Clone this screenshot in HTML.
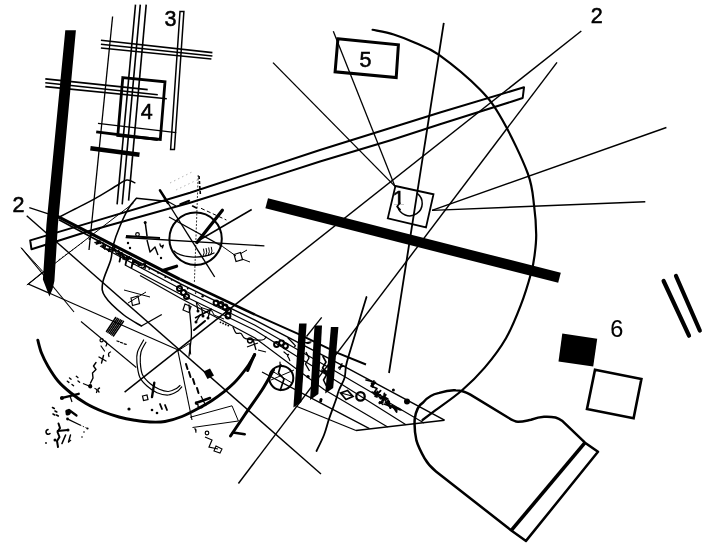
<!DOCTYPE html>
<html lang="en"><head><meta charset="utf-8"><title>Graphic score</title>
<style>
html,body{margin:0;padding:0;background:#fff;}
body{width:714px;height:550px;overflow:hidden;}
svg{display:block;}
svg text{filter:grayscale(1);fill:#000;font-family:"Liberation Sans",sans-serif;}
</style></head><body>
<svg width="714" height="550" viewBox="0 0 714 550" fill="none">
<rect x="0" y="0" width="714" height="550" fill="#fff" stroke="none"/>
<g stroke="#000" fill="none">
<polygon points="65.3,30.2 75.9,30.2 57.9,225.0 54.4,281.0 52.6,289.0 49.4,296.5 46.2,288.0 42.9,279.5 46.4,225.0" fill="#000" stroke="none"/>
<line x1="112.6" y1="16.5" x2="89.0" y2="250.0" stroke-width="1.3" stroke-linecap="butt" />
<line x1="135.5" y1="4.6" x2="117.1" y2="204.4" stroke-width="1.6" stroke-linecap="butt" />
<line x1="140.3" y1="4.6" x2="122.2" y2="204.4" stroke-width="1.6" stroke-linecap="butt" />
<line x1="146.2" y1="4.6" x2="128.6" y2="200.6" stroke-width="1.6" stroke-linecap="butt" />
<polygon points="180.0,11.5 183.9,11.5 174.4,149.6 170.6,149.6" stroke-width="1.5" fill="none" stroke-linejoin="miter" stroke-linecap="butt"/>
<line x1="100.9" y1="40.2" x2="212.4" y2="52.6" stroke-width="1.6" stroke-linecap="butt" />
<line x1="100.9" y1="44.3" x2="212.4" y2="56.0" stroke-width="1.6" stroke-linecap="butt" />
<line x1="100.9" y1="48.0" x2="211.4" y2="59.0" stroke-width="1.6" stroke-linecap="butt" />
<line x1="45.3" y1="78.9" x2="147.7" y2="89.6" stroke-width="1.6" stroke-linecap="butt" />
<line x1="45.3" y1="82.7" x2="157.8" y2="94.7" stroke-width="1.6" stroke-linecap="butt" />
<line x1="45.3" y1="86.6" x2="166.8" y2="98.8" stroke-width="1.6" stroke-linecap="butt" />
<polygon points="122.8,77.6 165.0,81.8 160.3,139.4 117.8,135.4" stroke-width="2.8" fill="none" stroke-linejoin="miter" stroke-linecap="butt"/>
<line x1="98.0" y1="123.4" x2="176.2" y2="132.6" stroke-width="1.4" stroke-linecap="butt" />
<line x1="96.2" y1="131.8" x2="157.8" y2="139.5" stroke-width="2.8" stroke-linecap="butt" />
<polygon points="90.1,150.5 139.2,157.0 139.8,152.6 90.7,146.1" fill="#000" stroke="none"/>
<polygon points="337.9,38.8 398.4,44.8 396.2,77.5 335.1,71.8" stroke-width="3.0" fill="none" stroke-linejoin="miter" stroke-linecap="butt"/>
<polygon points="30.2,240.4 90.0,222.6 190.0,192.8 320.0,150.0 440.0,112.5 524.0,87.3 522.7,98.0 512.0,101.5 440.0,124.3 391.6,140.0 320.0,161.5 270.0,177.6 190.0,202.8 90.0,230.8 31.5,249.3" stroke-width="2.0" fill="none" stroke-linejoin="round" stroke-linecap="butt"/>
<path d="M372.6,29.8 C376.1,30.6 386.6,32.3 393.7,34.5 C400.8,36.7 407.5,39.4 415.0,42.8 C422.5,46.2 427.9,46.9 438.7,54.7 C449.5,62.5 469.4,78.7 480.0,89.6 C490.6,100.5 494.4,106.0 502.4,120.0 C510.4,134.0 522.5,159.1 527.8,173.5 C533.1,187.9 532.8,196.4 534.2,206.6 C535.6,216.8 536.1,226.5 536.2,234.6 C536.3,242.7 535.4,248.7 534.6,255.0 C533.8,261.4 533.5,264.3 531.2,272.7 C528.9,281.1 524.9,294.5 520.7,305.4 C516.5,316.3 512.0,327.8 506.0,338.2 C500.0,348.6 492.1,358.9 484.7,367.6 C477.3,376.3 470.0,383.4 461.8,390.5 C453.6,397.6 442.2,405.3 435.6,410.2 C429.1,415.1 424.7,418.4 422.5,420.0" stroke-width="2.2" fill="none" stroke-linecap="round" stroke-linejoin="round"/>
<line x1="581.3" y1="31.0" x2="124.6" y2="392.1" stroke-width="1.45" stroke-linecap="butt" />
<line x1="557.0" y1="62.4" x2="238.4" y2="483.5" stroke-width="1.45" stroke-linecap="butt" />
<line x1="273.0" y1="62.6" x2="395.0" y2="186.4" stroke-width="1.35" stroke-linecap="butt" />
<line x1="333.3" y1="31.3" x2="395.0" y2="186.4" stroke-width="1.3" stroke-linecap="butt" />
<line x1="443.8" y1="22.9" x2="389.0" y2="373.0" stroke-width="1.8" stroke-linecap="butt" />
<line x1="432.0" y1="210.4" x2="666.4" y2="127.5" stroke-width="1.45" stroke-linecap="butt" />
<line x1="432.0" y1="210.4" x2="645.3" y2="201.8" stroke-width="1.45" stroke-linecap="butt" />
<line x1="26.7" y1="215.8" x2="321.0" y2="474.0" stroke-width="1.4" stroke-linecap="butt" />
<polygon points="395.4,186.0 433.5,194.3 426.0,227.4 387.8,218.3" stroke-width="1.8" fill="none" stroke-linejoin="miter" stroke-linecap="butt"/>
<path d="M417.2,193.3 A12.5,12.5 0 1 1 397.6,206.4" stroke-width="1.5" fill="none" stroke-linecap="round" stroke-linejoin="round"/>
<path d="M399.8,203.2 L397.0,206.6 L400.2,209.6" stroke-width="1.5" fill="none" stroke-linecap="round" stroke-linejoin="round"/>
<polygon points="265.4,208.3 558.2,282.8 560.8,272.8 268.0,198.3" fill="#000" stroke="none"/>
<polygon points="299.1,323.6 306.6,323.6 301.4,402.0 293.4,407.5" fill="#000" stroke="none"/>
<polygon points="314.5,325.5 322.0,325.5 318.4,394.0 310.0,400.0" fill="#000" stroke="none"/>
<polygon points="330.9,327.0 338.4,327.0 333.2,388.0 325.2,393.5" fill="#000" stroke="none"/>
<polygon points="562.3,333.6 597.2,338.8 593.2,366.6 558.5,361.4" fill="#000" stroke="none"/>
<polygon points="595.0,369.7 641.4,379.0 633.6,418.2 587.0,409.0" stroke-width="2.6" fill="none" stroke-linejoin="miter" stroke-linecap="butt"/>
<line x1="663.6" y1="281.0" x2="689.0" y2="335.7" stroke-width="4.2" stroke-linecap="round" />
<line x1="676.0" y1="276.0" x2="699.8" y2="330.5" stroke-width="4.2" stroke-linecap="round" />
<path d="M414.7,419.1 C416,410 419,405 422.9,402.7 C428,396 434,394 439.3,392.9 C445,391 451,390 455.7,390.3 C461,390.5 466,392 470.4,394.6 L508,417.5 C512,420 515,421.5 517.9,421.7 C523,421.8 527,420.5 531,419.8 C536,418 540,417 544,416.8 C548,416.6 552,416.8 555.5,417.5 C558,418.3 560,419.3 562,420.7 L585,442.7 L598,451.8 L526,540.9 L511.3,530.4 L436,471.5 C431,467.5 427.5,463.5 424.6,458.4 C421,452 418,446 416.4,440.4 C414.8,433 414.2,426 414.7,419.1 Z" stroke-width="2.5" fill="none" stroke-linecap="round" stroke-linejoin="round"/>
<line x1="585.0" y1="442.7" x2="511.3" y2="530.4" stroke-width="3.6" stroke-linecap="butt" />
<path d="M37.8,340.2 C38.4,342.3 39.8,348.7 41.5,353.0 C43.2,357.3 45.2,361.5 48.0,366.2 C50.8,370.9 54.2,376.5 58.0,381.0 C61.8,385.5 66.2,389.2 70.9,393.0 C75.6,396.8 80.5,400.3 86.0,403.5 C91.5,406.7 98.5,409.8 104.0,412.0 C109.5,414.2 113.9,415.6 119.0,417.0 C124.1,418.4 129.4,419.4 134.6,420.2 C139.8,421.0 144.9,421.8 150.0,422.0 C155.1,422.2 159.7,422.4 165.0,421.5 C170.3,420.6 176.4,418.7 182.0,416.5 C187.6,414.3 193.7,410.9 198.7,408.2 C203.7,405.5 207.8,403.3 212.0,400.5 C216.2,397.7 220.5,394.5 224.2,391.6 C227.9,388.7 231.0,386.0 234.0,383.0 C237.0,380.0 239.5,376.9 242.0,373.8 C244.5,370.7 246.9,367.7 249.0,364.5 C251.1,361.3 253.8,356.3 254.7,354.7" stroke-width="2.9" fill="none" stroke-linecap="round" stroke-linejoin="round"/>
<circle cx="195.6" cy="238.7" r="26.2" stroke-width="2.0" fill="none"/>
<line x1="125.6" y1="237.5" x2="264.4" y2="245.9" stroke-width="1.3" stroke-linecap="butt" />
<line x1="197.0" y1="242.6" x2="222.4" y2="210.2" stroke-width="3.2" stroke-linecap="round" />
<line x1="199.5" y1="240.0" x2="251.7" y2="209.5" stroke-width="1.5" stroke-linecap="butt" />
<line x1="160.0" y1="190.4" x2="168.0" y2="203.0" stroke-width="2.6" stroke-linecap="round" />
<line x1="168.0" y1="203.0" x2="214.7" y2="277.0" stroke-width="1.4" stroke-linecap="butt" />
<line x1="198.2" y1="175.0" x2="194.4" y2="282.0" stroke-width="0.8" stroke-linecap="butt" stroke-dasharray="2 1.5"/>
<line x1="169.0" y1="217.0" x2="222.4" y2="246.4" stroke-width="1.2" stroke-linecap="butt" />
<path d="M174,251 C180,257 200,260 214,253" stroke-width="1.3" fill="none" stroke-linecap="round" stroke-linejoin="round"/>
<line x1="162.6" y1="270.6" x2="176.6" y2="266.2" stroke-width="3.2" stroke-linecap="round" />
<line x1="201.0" y1="208.3" x2="226.4" y2="220.0" stroke-width="1.0" stroke-linecap="butt" stroke-dasharray="4 2.5"/>
<line x1="29.3" y1="207.7" x2="57.5" y2="216.8" stroke-width="1.3" stroke-linecap="butt" />
<polyline points="57.5,216.3 120.0,248.6 180.0,279.3" stroke-width="3.2" fill="none" stroke-linejoin="miter" stroke-linecap="butt"/>
<polyline points="180.0,279.3 255.0,314.6" stroke-width="2.6" fill="none" stroke-linejoin="miter" stroke-linecap="butt"/>
<polyline points="255.0,314.6 298.7,334.2 338.0,353.2 366.0,364.5" stroke-width="2.0" fill="none" stroke-linejoin="miter" stroke-linecap="butt"/>
<polyline points="59.0,219.8 120.0,252.5 180.0,283.6" stroke-width="1.7" fill="none" stroke-linejoin="miter" stroke-linecap="butt"/>
<polyline points="180.0,283.6 255.0,320.2 338.0,363.2 444.5,420.2" stroke-width="1.5" fill="none" stroke-linejoin="miter" stroke-linecap="butt"/>
<polyline points="100.0,246.0 180.0,288.5 255.0,325.2 338.0,372.8 424.0,423.0" stroke-width="1.2" fill="none" stroke-linejoin="miter" stroke-linecap="butt"/>
<polyline points="125.0,265.0 180.0,294.0 255.0,330.3 338.0,382.0 406.0,424.8" stroke-width="1.2" fill="none" stroke-linejoin="miter" stroke-linecap="butt"/>
<polyline points="140.0,275.6 180.0,298.0 255.0,338.0 324.0,389.5 387.7,427.0" stroke-width="1.2" fill="none" stroke-linejoin="miter" stroke-linecap="butt"/>
<polyline points="262.0,372.0 308.0,396.4 369.5,428.6" stroke-width="1.2" fill="none" stroke-linejoin="miter" stroke-linecap="butt"/>
<polyline points="294.5,405.5 356.0,430.5" stroke-width="1.2" fill="none" stroke-linejoin="miter" stroke-linecap="butt"/>
<line x1="356.0" y1="430.5" x2="444.5" y2="420.2" stroke-width="1.6" stroke-linecap="butt" />
<path d="M366.5,297.0 C365.1,301.7 360.8,315.7 358.0,325.0 C355.2,334.3 351.5,346.2 349.5,353.0 C347.5,359.8 346.8,361.8 346.0,366.0 C345.2,370.2 345.7,374.0 344.5,378.0 C343.3,382.0 340.5,386.2 339.0,390.0 C337.5,393.8 337.2,396.2 335.5,401.0 C333.8,405.8 330.9,413.3 329.0,419.0 C327.1,424.7 326.1,429.7 324.0,435.0 C321.9,440.3 317.8,448.3 316.5,451.0" stroke-width="1.8" fill="none" stroke-linecap="round" stroke-linejoin="round"/>
<line x1="321.7" y1="317.4" x2="306.5" y2="336.5" stroke-width="1.3" stroke-linecap="butt" />
<circle cx="281.3" cy="378.0" r="12.0" stroke-width="2.0" fill="none"/>
<circle cx="360.5" cy="396.4" r="4.2" stroke-width="2.3" fill="none"/>
<polygon points="340.5,393.0 347.5,390.5 353.0,396.5 346.0,399.5" stroke-width="1.8" fill="none" stroke-linejoin="miter" stroke-linecap="butt"/>
<line x1="341.0" y1="393.0" x2="352.0" y2="396.0" stroke-width="1.2" stroke-linecap="butt" />
<circle cx="407.0" cy="401.6" r="3.0" fill="#000" stroke="none"/>
<circle cx="393.4" cy="390.0" r="1.5" fill="#000" stroke="none"/>
<circle cx="320.7" cy="401.0" r="1.5" fill="#000" stroke="none"/>
<circle cx="307.7" cy="376.6" r="1.4" fill="#000" stroke="none"/>
<path d="M273.5,370.0 C271.6,373.3 266.8,382.6 262.0,390.0 C257.2,397.4 250.2,406.8 245.0,414.5 C239.8,422.2 232.9,432.4 230.5,436.0" stroke-width="3.0" fill="none" stroke-linecap="round" stroke-linejoin="round"/>
<line x1="233.0" y1="432.5" x2="244.7" y2="434.3" stroke-width="2.6" stroke-linecap="round" />
<polyline points="190.0,417.3 232.0,405.8 238.4,421.0 192.5,427.5" stroke-width="1.0" fill="none" stroke-linejoin="miter" stroke-linecap="butt"/>
<polyline points="43.7,271.4 28.4,284.0 48.0,292.6" stroke-width="1.2" fill="none" stroke-linejoin="miter" stroke-linecap="butt"/>
<path d="M57.5,218.0 C60.4,216.5 68.8,212.2 75.0,209.0 C81.2,205.8 87.9,202.6 95.0,198.6 C102.1,194.6 112.4,188.1 117.7,185.0 C123.0,181.9 123.9,180.4 126.8,180.0 C129.7,179.6 133.5,182.2 134.8,182.7" stroke-width="1.5" fill="none" stroke-linecap="round" stroke-linejoin="round"/>
<line x1="136.5" y1="198.3" x2="168.0" y2="201.5" stroke-width="1.4" stroke-linecap="butt" />
<line x1="168.0" y1="201.5" x2="176.0" y2="206.0" stroke-width="1.2" stroke-linecap="butt" />
<path d="M136.5,198.3 C135.2,199.9 131.8,203.1 129.0,207.7 C126.2,212.3 122.7,219.6 120.0,226.0 C117.3,232.4 114.5,240.3 113.0,246.0 C111.5,251.7 112.4,253.9 110.7,260.0 C109.0,266.1 103.7,276.6 102.7,282.7 C101.8,288.8 101.6,291.1 105.0,296.4 C108.4,301.7 117.1,309.6 123.2,314.5 C129.3,319.4 138.4,324.1 141.4,326.0" stroke-width="1.6" fill="none" stroke-linecap="round" stroke-linejoin="round"/>
<line x1="141.4" y1="326.0" x2="161.8" y2="314.5" stroke-width="1.4" stroke-linecap="butt" />
<path d="M189.0,305.0 C189.2,307.5 190.1,315.0 190.5,320.0 C190.9,325.0 191.7,329.0 191.4,335.0 C191.2,341.0 189.4,352.5 189.0,356.0" stroke-width="1.3" fill="none" stroke-linecap="round" stroke-linejoin="round"/>
<line x1="26.8" y1="285.0" x2="133.6" y2="203.0" stroke-width="1.0" stroke-linecap="butt" />
<line x1="58.6" y1="260.0" x2="83.6" y2="241.8" stroke-width="0.8" stroke-linecap="butt" stroke-dasharray="2 2"/>
<line x1="21.0" y1="247.5" x2="42.7" y2="271.4" stroke-width="1.0" stroke-linecap="butt" />
<line x1="21.3" y1="248.0" x2="74.0" y2="312.0" stroke-width="1.1" stroke-linecap="butt" />
<line x1="48.0" y1="292.6" x2="177.7" y2="349.8" stroke-width="1.1" stroke-linecap="butt" />
<line x1="81.0" y1="321.5" x2="136.3" y2="367.5" stroke-width="1.1" stroke-linecap="butt" />
<polyline points="177.6,351.0 189.6,343.3 190.7,354.5" stroke-width="1.0" fill="none" stroke-linejoin="miter" stroke-linecap="butt"/>
<line x1="106.5" y1="331.5" x2="115.7" y2="317.5" stroke-width="1.5" stroke-linecap="round" />
<line x1="107.9" y1="332.4" x2="117.3" y2="318.3" stroke-width="1.5" stroke-linecap="round" />
<line x1="109.3" y1="333.3" x2="118.8" y2="319.0" stroke-width="1.5" stroke-linecap="round" />
<line x1="110.7" y1="334.2" x2="120.4" y2="319.8" stroke-width="1.5" stroke-linecap="round" />
<line x1="112.0" y1="335.1" x2="121.9" y2="320.5" stroke-width="1.5" stroke-linecap="round" />
<line x1="113.4" y1="336.0" x2="123.5" y2="321.3" stroke-width="1.5" stroke-linecap="round" />
<line x1="117.0" y1="341.0" x2="119.0" y2="341.6" stroke-width="1.3" stroke-linecap="round" />
<line x1="120.6" y1="342.4" x2="122.6" y2="343.0" stroke-width="1.3" stroke-linecap="round" />
<line x1="124.2" y1="343.8" x2="126.2" y2="344.4" stroke-width="1.3" stroke-linecap="round" />
<path d="M143.6,340.0 C142.6,342.0 138.6,348.3 137.5,352.0 C136.4,355.7 136.5,358.2 136.9,362.4 C137.3,366.6 138.0,373.1 139.7,377.0 C141.4,380.9 144.1,383.4 147.0,386.0 C149.9,388.6 153.4,391.2 157.0,392.7 C160.6,394.2 164.9,395.2 168.3,395.0 C171.7,394.8 175.0,392.8 177.2,391.5 C179.4,390.2 180.9,387.8 181.7,387.0" stroke-width="1.2" fill="none" stroke-linecap="round" stroke-linejoin="round"/>
<path d="M145.9,342.2 C145.1,343.8 141.9,348.6 141.0,352.0 C140.1,355.4 140.1,358.6 140.3,362.4 C140.6,366.2 140.8,371.1 142.5,374.7 C144.2,378.2 147.5,381.3 150.3,383.7 C153.1,386.1 156.3,388.0 159.3,389.3 C162.3,390.6 165.5,391.6 168.3,391.5 C171.1,391.4 174.2,389.7 176.1,388.7 C178.0,387.7 179.3,386.0 180.0,385.5" stroke-width="1.2" fill="none" stroke-linecap="round" stroke-linejoin="round"/>
<line x1="154.3" y1="382.6" x2="152.0" y2="397.1" stroke-width="2.4" stroke-linecap="round" />
<polygon points="131.0,298.0 138.0,296.0 139.5,303.5 132.5,305.5" stroke-width="1.2" fill="none" stroke-linejoin="miter" stroke-linecap="butt"/>
<line x1="124.0" y1="290.0" x2="150.0" y2="297.0" stroke-width="1.0" stroke-linecap="butt" />
<line x1="128.0" y1="303.0" x2="146.0" y2="292.0" stroke-width="1.0" stroke-linecap="butt" />
<polygon points="234.0,254.5 240.5,252.5 242.5,259.5 236.0,261.5" stroke-width="1.2" fill="none" stroke-linejoin="miter" stroke-linecap="butt"/>
<line x1="222.4" y1="246.4" x2="236.0" y2="256.0" stroke-width="1.0" stroke-linecap="butt" />
<line x1="240.0" y1="254.0" x2="247.0" y2="250.0" stroke-width="1.0" stroke-linecap="butt" />
<line x1="242.0" y1="259.0" x2="250.0" y2="262.0" stroke-width="1.0" stroke-linecap="butt" />
<path d="M203.0,256.5 q2.2,-3.5 0.6,-7.5" stroke-width="1.0" fill="none" stroke-linecap="round" stroke-linejoin="round"/>
<path d="M205.6,255.9 q2.2,-3.5 0.6,-7.5" stroke-width="1.0" fill="none" stroke-linecap="round" stroke-linejoin="round"/>
<path d="M208.2,255.3 q2.2,-3.5 0.6,-7.5" stroke-width="1.0" fill="none" stroke-linecap="round" stroke-linejoin="round"/>
<path d="M210.8,254.7 q2.2,-3.5 0.6,-7.5" stroke-width="1.0" fill="none" stroke-linecap="round" stroke-linejoin="round"/>
<circle cx="137.5" cy="234.5" r="1.8" stroke-width="1.2" fill="none"/>
<circle cx="145.2" cy="222.5" r="1.5" fill="#000" stroke="none"/>
<line x1="145.2" y1="222.5" x2="147.1" y2="236.4" stroke-width="1.5" stroke-linecap="butt" />
<line x1="126.0" y1="236.0" x2="160.0" y2="238.0" stroke-width="2.0" stroke-linecap="butt" />
<polyline points="147.0,240.0 150.0,252.0 155.0,247.0 158.0,255.0" stroke-width="1.4" fill="none" stroke-linejoin="round" stroke-linecap="butt"/>
<polyline points="160.0,244.0 160.2,245.1 161.1,246.6 163.3,245.2 162.3,247.9 162.6,247.4" stroke-width="1.3" fill="none" stroke-linejoin="round" stroke-linecap="round"/>
<circle cx="128.0" cy="243.0" r="1.2" fill="#000" stroke="none"/>
<circle cx="130.0" cy="248.0" r="1.2" fill="#000" stroke="none"/>
<circle cx="161.0" cy="258.0" r="1.2" fill="#000" stroke="none"/>
<circle cx="146.0" cy="262.0" r="1.1" fill="#000" stroke="none"/>
<line x1="170.0" y1="183.0" x2="192.0" y2="172.0" stroke-width="0.6" stroke-linecap="butt" stroke-dasharray="1.5 3" stroke-opacity="0.5"/>
<line x1="176.0" y1="190.0" x2="197.0" y2="180.0" stroke-width="0.6" stroke-linecap="butt" stroke-dasharray="1.5 3" stroke-opacity="0.5"/>
<line x1="180.3" y1="204.2" x2="189.2" y2="200.8" stroke-width="2.0" stroke-linecap="round" />
<line x1="192.6" y1="206.0" x2="196.5" y2="208.0" stroke-width="1.6" stroke-linecap="round" />
<line x1="199.0" y1="176.0" x2="200.5" y2="196.0" stroke-width="1.6" stroke-linecap="butt" stroke-dasharray="3 2"/>
<circle cx="179.5" cy="288.5" r="2.5" stroke-width="2.0" fill="none"/>
<circle cx="183.5" cy="292.5" r="2.5" stroke-width="2.0" fill="none"/>
<circle cx="186.5" cy="296.5" r="2.5" stroke-width="2.0" fill="none"/>
<circle cx="216.0" cy="303.0" r="2.4" stroke-width="2.0" fill="none"/>
<circle cx="221.0" cy="304.5" r="2.4" stroke-width="2.0" fill="none"/>
<circle cx="225.0" cy="307.0" r="2.4" stroke-width="2.0" fill="none"/>
<circle cx="228.5" cy="311.0" r="2.4" stroke-width="2.0" fill="none"/>
<circle cx="228.0" cy="316.0" r="2.4" stroke-width="2.0" fill="none"/>
<polygon points="185.0,304.0 191.0,306.5 189.0,312.5 183.0,310.0" stroke-width="1.2" fill="none" stroke-linejoin="miter" stroke-linecap="butt"/>
<circle cx="198.0" cy="311.0" r="1.5" fill="#000" stroke="none"/>
<line x1="198.0" y1="311.0" x2="196.4" y2="302.1" stroke-width="1.3" stroke-linecap="butt" />
<circle cx="203.0" cy="316.0" r="1.5" fill="#000" stroke="none"/>
<line x1="203.0" y1="316.0" x2="201.4" y2="307.1" stroke-width="1.3" stroke-linecap="butt" />
<circle cx="208.0" cy="318.0" r="1.5" fill="#000" stroke="none"/>
<line x1="208.0" y1="318.0" x2="210.3" y2="309.3" stroke-width="1.3" stroke-linecap="butt" />
<circle cx="196.0" cy="322.0" r="1.5" fill="#000" stroke="none"/>
<line x1="196.0" y1="322.0" x2="200.5" y2="314.2" stroke-width="1.3" stroke-linecap="butt" />
<line x1="195.0" y1="318.0" x2="212.0" y2="309.0" stroke-width="1.6" stroke-linecap="butt" />
<line x1="194.0" y1="330.0" x2="205.0" y2="321.0" stroke-width="2.0" stroke-linecap="round" />
<circle cx="220.5" cy="322.3" r="0.9" fill="#000" stroke="none"/>
<circle cx="223.1" cy="323.4" r="0.9" fill="#000" stroke="none"/>
<circle cx="225.7" cy="324.5" r="0.9" fill="#000" stroke="none"/>
<circle cx="228.3" cy="325.6" r="0.9" fill="#000" stroke="none"/>
<path d="M233.0,327.0 C233.5,328.0 234.7,331.9 236.0,333.0 C237.3,334.1 239.4,332.6 241.0,333.5 C242.6,334.4 242.0,337.5 245.5,338.6 C249.0,339.7 258.6,340.3 262.0,340.0 C265.4,339.7 265.3,337.5 266.0,337.0" stroke-width="1.2" fill="none" stroke-linecap="round" stroke-linejoin="round"/>
<circle cx="250.0" cy="340.5" r="2.4" stroke-width="1.5" fill="none"/>
<line x1="253.0" y1="339.0" x2="256.0" y2="350.0" stroke-width="1.3" stroke-linecap="butt" />
<line x1="247.0" y1="347.0" x2="258.0" y2="343.0" stroke-width="1.2" stroke-linecap="butt" />
<line x1="258.0" y1="350.0" x2="266.0" y2="352.0" stroke-width="1.1" stroke-linecap="butt" />
<circle cx="276.5" cy="344.5" r="2.4" stroke-width="2.0" fill="none"/>
<circle cx="281.5" cy="343.0" r="2.4" stroke-width="2.0" fill="none"/>
<circle cx="285.5" cy="346.0" r="2.4" stroke-width="2.0" fill="none"/>
<polyline points="288.0,338.0 290.0,340.0 292.9,343.0 295.5,345.8 294.7,346.5" stroke-width="1.2" fill="none" stroke-linejoin="round" stroke-linecap="round"/>
<polyline points="284.0,352.0 287.1,354.6 288.6,354.3 287.5,356.0 288.9,358.3 289.8,360.6" stroke-width="1.2" fill="none" stroke-linejoin="round" stroke-linecap="round"/>
<polyline points="280.0,362.0 280.1,365.1 279.8,366.9 279.2,366.5 283.1,366.0" stroke-width="1.2" fill="none" stroke-linejoin="round" stroke-linecap="round"/>
<line x1="254.5" y1="354.5" x2="247.7" y2="370.5" stroke-width="3.0" stroke-linecap="round" />
<circle cx="89.6" cy="239.0" r="1.1" fill="#000" stroke="none"/>
<circle cx="96.6" cy="243.9" r="0.9" fill="#000" stroke="none"/>
<circle cx="104.1" cy="247.5" r="0.7" fill="#000" stroke="none"/>
<circle cx="112.4" cy="250.0" r="0.8" fill="#000" stroke="none"/>
<circle cx="119.8" cy="256.0" r="0.8" fill="#000" stroke="none"/>
<circle cx="126.9" cy="259.1" r="1.3" fill="#000" stroke="none"/>
<circle cx="135.2" cy="262.2" r="1.3" fill="#000" stroke="none"/>
<circle cx="141.6" cy="267.3" r="0.9" fill="#000" stroke="none"/>
<circle cx="149.3" cy="268.9" r="0.9" fill="#000" stroke="none"/>
<circle cx="158.1" cy="272.8" r="1.0" fill="#000" stroke="none"/>
<circle cx="165.3" cy="277.1" r="1.0" fill="#000" stroke="none"/>
<circle cx="171.6" cy="279.9" r="0.8" fill="#000" stroke="none"/>
<circle cx="180.4" cy="284.8" r="0.9" fill="#000" stroke="none"/>
<circle cx="187.7" cy="288.6" r="0.9" fill="#000" stroke="none"/>
<circle cx="195.6" cy="293.1" r="0.8" fill="#000" stroke="none"/>
<circle cx="202.6" cy="296.3" r="1.2" fill="#000" stroke="none"/>
<polyline points="196.0,302.0 201.0,307.5 212.0,311.0 214.0,315.0 224.0,319.0" stroke-width="1.0" fill="none" stroke-linejoin="miter" stroke-linecap="butt"/>
<polyline points="281.0,364.0 278.5,373.0 284.0,379.0 280.0,391.0" stroke-width="1.7" fill="none" stroke-linejoin="round" stroke-linecap="butt"/>
<line x1="272.0" y1="371.0" x2="292.0" y2="383.0" stroke-width="1.0" stroke-linecap="butt" />
<line x1="271.0" y1="380.0" x2="294.0" y2="370.0" stroke-width="1.0" stroke-linecap="butt" />
<polyline points="366.0,380.0 374.0,382.0 371.0,386.0 377.0,388.5 374.5,392.0" stroke-width="1.7" fill="none" stroke-linejoin="round" stroke-linecap="round"/>
<line x1="371.4" y1="382.9" x2="373.0" y2="387.1" stroke-width="1.5" stroke-linecap="round" />
<line x1="373.9" y1="380.8" x2="372.4" y2="386.7" stroke-width="1.5" stroke-linecap="round" />
<line x1="375.6" y1="382.3" x2="371.8" y2="386.5" stroke-width="1.5" stroke-linecap="round" />
<circle cx="373.0" cy="384.0" r="1.1" fill="#000" stroke="none"/>
<line x1="377.6" y1="391.5" x2="375.4" y2="396.2" stroke-width="1.8" stroke-linecap="round" />
<line x1="380.6" y1="390.6" x2="375.3" y2="396.4" stroke-width="1.8" stroke-linecap="round" />
<line x1="375.7" y1="392.0" x2="377.0" y2="397.0" stroke-width="1.8" stroke-linecap="round" />
<line x1="374.4" y1="394.4" x2="380.3" y2="394.9" stroke-width="1.8" stroke-linecap="round" />
<circle cx="377.0" cy="394.5" r="1.4" fill="#000" stroke="none"/>
<line x1="379.6" y1="397.5" x2="386.7" y2="398.3" stroke-width="1.8" stroke-linecap="round" />
<line x1="385.8" y1="394.7" x2="381.9" y2="401.2" stroke-width="1.8" stroke-linecap="round" />
<line x1="380.6" y1="398.7" x2="386.8" y2="399.0" stroke-width="1.8" stroke-linecap="round" />
<line x1="384.4" y1="393.5" x2="383.3" y2="400.9" stroke-width="1.8" stroke-linecap="round" />
<circle cx="384.0" cy="398.0" r="1.4" fill="#000" stroke="none"/>
<line x1="388.3" y1="400.5" x2="390.5" y2="408.0" stroke-width="1.9" stroke-linecap="round" />
<line x1="385.5" y1="402.0" x2="389.7" y2="405.6" stroke-width="1.9" stroke-linecap="round" />
<line x1="386.3" y1="403.6" x2="393.1" y2="407.3" stroke-width="1.9" stroke-linecap="round" />
<line x1="387.6" y1="401.2" x2="390.3" y2="407.9" stroke-width="1.9" stroke-linecap="round" />
<circle cx="388.5" cy="405.0" r="1.4" fill="#000" stroke="none"/>
<line x1="392.3" y1="405.6" x2="396.7" y2="410.7" stroke-width="1.8" stroke-linecap="round" />
<line x1="392.6" y1="407.0" x2="397.3" y2="408.1" stroke-width="1.8" stroke-linecap="round" />
<line x1="392.2" y1="405.6" x2="396.6" y2="412.0" stroke-width="1.8" stroke-linecap="round" />
<line x1="392.4" y1="406.2" x2="399.7" y2="409.4" stroke-width="1.8" stroke-linecap="round" />
<circle cx="395.5" cy="408.5" r="1.4" fill="#000" stroke="none"/>
<line x1="383.1" y1="402.2" x2="379.3" y2="403.6" stroke-width="1.4" stroke-linecap="round" />
<line x1="379.6" y1="401.7" x2="382.8" y2="404.5" stroke-width="1.4" stroke-linecap="round" />
<line x1="379.0" y1="402.6" x2="382.1" y2="402.9" stroke-width="1.4" stroke-linecap="round" />
<circle cx="381.0" cy="402.0" r="1.0" fill="#000" stroke="none"/>
<line x1="372.0" y1="392.0" x2="388.0" y2="399.0" stroke-width="1.5" stroke-linecap="round" />
<line x1="384.0" y1="404.0" x2="401.0" y2="410.0" stroke-width="1.5" stroke-linecap="round" />
<circle cx="399.0" cy="409.0" r="1.3" fill="#000" stroke="none"/>
<circle cx="389.0" cy="402.0" r="1.2" fill="#000" stroke="none"/>
<polyline points="306.0,352.0 309.0,358.0 305.5,364.0 309.5,371.0" stroke-width="1.4" fill="none" stroke-linejoin="round" stroke-linecap="butt"/>
<polyline points="322.7,356.0 326.0,362.0 322.5,368.0 327.0,374.0 323.5,380.0 326.4,386.0" stroke-width="1.6" fill="none" stroke-linejoin="round" stroke-linecap="butt"/>
<line x1="321.7" y1="369.9" x2="325.7" y2="373.7" stroke-width="1.4" stroke-linecap="round" />
<line x1="323.4" y1="368.9" x2="327.6" y2="372.6" stroke-width="1.4" stroke-linecap="round" />
<line x1="327.7" y1="371.0" x2="321.5" y2="371.6" stroke-width="1.4" stroke-linecap="round" />
<circle cx="324.5" cy="371.0" r="1.0" fill="#000" stroke="none"/>
<line x1="310.2" y1="342.9" x2="306.9" y2="343.1" stroke-width="1.3" stroke-linecap="round" />
<line x1="311.1" y1="341.8" x2="307.0" y2="342.6" stroke-width="1.3" stroke-linecap="round" />
<line x1="309.3" y1="342.6" x2="305.1" y2="342.7" stroke-width="1.3" stroke-linecap="round" />
<circle cx="308.0" cy="343.0" r="1.0" fill="#000" stroke="none"/>
<line x1="342.0" y1="363.6" x2="339.8" y2="369.4" stroke-width="1.3" stroke-linecap="round" />
<line x1="344.1" y1="366.0" x2="339.0" y2="367.1" stroke-width="1.3" stroke-linecap="round" />
<line x1="341.9" y1="366.4" x2="338.5" y2="368.0" stroke-width="1.3" stroke-linecap="round" />
<circle cx="341.0" cy="366.0" r="1.0" fill="#000" stroke="none"/>
<circle cx="308.2" cy="376.8" r="1.5" fill="#000" stroke="none"/>
<circle cx="321.0" cy="399.5" r="1.5" fill="#000" stroke="none"/>
<line x1="96.9" y1="241.7" x2="100.4" y2="243.4" stroke-width="1.5" stroke-linecap="round" />
<line x1="100.0" y1="240.7" x2="97.4" y2="243.6" stroke-width="1.5" stroke-linecap="round" />
<line x1="95.0" y1="242.6" x2="98.8" y2="243.6" stroke-width="1.5" stroke-linecap="round" />
<circle cx="98.0" cy="242.1" r="1.1" fill="#000" stroke="none"/>
<line x1="105.5" y1="245.4" x2="104.7" y2="248.7" stroke-width="1.5" stroke-linecap="round" />
<line x1="103.1" y1="243.1" x2="103.5" y2="247.6" stroke-width="1.5" stroke-linecap="round" />
<line x1="101.9" y1="245.4" x2="104.7" y2="248.9" stroke-width="1.5" stroke-linecap="round" />
<circle cx="104.0" cy="246.0" r="1.1" fill="#000" stroke="none"/>
<line x1="106.3" y1="249.0" x2="110.2" y2="251.0" stroke-width="1.5" stroke-linecap="round" />
<line x1="109.9" y1="247.8" x2="108.7" y2="251.4" stroke-width="1.5" stroke-linecap="round" />
<line x1="107.2" y1="249.2" x2="111.3" y2="249.8" stroke-width="1.5" stroke-linecap="round" />
<circle cx="109.0" cy="249.5" r="1.1" fill="#000" stroke="none"/>
<line x1="116.5" y1="250.6" x2="112.5" y2="250.9" stroke-width="1.5" stroke-linecap="round" />
<line x1="113.0" y1="248.3" x2="115.4" y2="250.3" stroke-width="1.5" stroke-linecap="round" />
<line x1="114.0" y1="246.9" x2="115.8" y2="251.6" stroke-width="1.5" stroke-linecap="round" />
<circle cx="114.0" cy="250.2" r="1.1" fill="#000" stroke="none"/>
<line x1="122.0" y1="252.7" x2="117.1" y2="253.3" stroke-width="1.5" stroke-linecap="round" />
<line x1="118.6" y1="250.5" x2="120.9" y2="254.5" stroke-width="1.5" stroke-linecap="round" />
<line x1="115.9" y1="252.8" x2="120.3" y2="255.3" stroke-width="1.5" stroke-linecap="round" />
<circle cx="119.0" cy="253.6" r="1.1" fill="#000" stroke="none"/>
<line x1="126.4" y1="257.5" x2="123.0" y2="258.9" stroke-width="1.5" stroke-linecap="round" />
<line x1="122.3" y1="254.3" x2="124.9" y2="258.2" stroke-width="1.5" stroke-linecap="round" />
<line x1="122.1" y1="255.4" x2="124.2" y2="259.5" stroke-width="1.5" stroke-linecap="round" />
<circle cx="124.0" cy="257.1" r="1.1" fill="#000" stroke="none"/>
<line x1="129.4" y1="256.9" x2="126.3" y2="260.9" stroke-width="1.5" stroke-linecap="round" />
<line x1="131.0" y1="257.7" x2="128.5" y2="259.4" stroke-width="1.5" stroke-linecap="round" />
<line x1="126.5" y1="256.3" x2="130.8" y2="259.2" stroke-width="1.5" stroke-linecap="round" />
<circle cx="129.0" cy="257.8" r="1.1" fill="#000" stroke="none"/>
<line x1="133.6" y1="260.1" x2="136.7" y2="263.1" stroke-width="1.5" stroke-linecap="round" />
<line x1="133.0" y1="260.7" x2="133.2" y2="264.3" stroke-width="1.5" stroke-linecap="round" />
<line x1="135.5" y1="260.5" x2="133.0" y2="263.0" stroke-width="1.5" stroke-linecap="round" />
<circle cx="134.0" cy="261.3" r="1.1" fill="#000" stroke="none"/>
<line x1="137.7" y1="263.5" x2="142.1" y2="265.4" stroke-width="1.5" stroke-linecap="round" />
<line x1="136.9" y1="262.7" x2="139.1" y2="265.3" stroke-width="1.5" stroke-linecap="round" />
<line x1="136.3" y1="262.5" x2="140.2" y2="265.4" stroke-width="1.5" stroke-linecap="round" />
<circle cx="139.0" cy="264.7" r="1.1" fill="#000" stroke="none"/>
<line x1="143.8" y1="263.5" x2="146.4" y2="266.5" stroke-width="1.5" stroke-linecap="round" />
<line x1="145.2" y1="263.4" x2="145.1" y2="268.6" stroke-width="1.5" stroke-linecap="round" />
<line x1="146.0" y1="265.5" x2="142.9" y2="268.0" stroke-width="1.5" stroke-linecap="round" />
<circle cx="145.0" cy="265.9" r="1.1" fill="#000" stroke="none"/>
<line x1="121.0" y1="254.6" x2="119.5" y2="261.6" stroke-width="1.8" stroke-linecap="round" />
<line x1="127.0" y1="257.6" x2="125.5" y2="264.6" stroke-width="1.8" stroke-linecap="round" />
<line x1="133.0" y1="260.7" x2="131.5" y2="267.7" stroke-width="1.8" stroke-linecap="round" />
<polygon points="203.5,371.5 210.0,368.5 214.0,375.5 207.5,379.0" fill="#000" stroke="none"/>
<line x1="186.0" y1="364.0" x2="187.5" y2="369.0" stroke-width="2.0" stroke-linecap="round" />
<line x1="189.0" y1="372.0" x2="190.5" y2="377.0" stroke-width="2.0" stroke-linecap="round" />
<line x1="193.0" y1="379.0" x2="194.5" y2="384.0" stroke-width="2.0" stroke-linecap="round" />
<line x1="197.0" y1="388.0" x2="198.5" y2="393.0" stroke-width="2.0" stroke-linecap="round" />
<line x1="196.0" y1="403.0" x2="210.0" y2="398.0" stroke-width="2.6" stroke-linecap="round" />
<line x1="201.0" y1="396.0" x2="206.0" y2="406.0" stroke-width="1.3" stroke-linecap="butt" />
<polyline points="196.0,402.0 195.8,403.8 198.0,404.6 198.1,406.9 201.1,407.9 202.6,407.4 201.7,407.7" stroke-width="1.3" fill="none" stroke-linejoin="round" stroke-linecap="round"/>
<line x1="177.7" y1="349.8" x2="192.0" y2="420.0" stroke-width="1.1" stroke-linecap="butt" />
<polyline points="196.0,430.0 194.9,428.7 196.0,430.9 195.7,429.6 195.9,432.2" stroke-width="1.2" fill="none" stroke-linejoin="round" stroke-linecap="round"/>
<circle cx="207.0" cy="433.0" r="1.8" stroke-width="1.2" fill="none"/>
<polyline points="205.0,437.0 212.0,440.0 209.0,447.0 218.0,449.0" stroke-width="1.2" fill="none" stroke-linejoin="miter" stroke-linecap="butt"/>
<polygon points="216.0,446.0 222.0,449.0 220.0,453.0 214.0,451.0" stroke-width="1.1" fill="none" stroke-linejoin="miter" stroke-linecap="butt"/>
<circle cx="101.6" cy="340.3" r="1.6" stroke-width="1.2" fill="none"/>
<path d="M105,341 q3,2 1,5" stroke-width="1.3" fill="none" stroke-linecap="round" stroke-linejoin="round"/>
<line x1="101.0" y1="346.0" x2="104.5" y2="351.0" stroke-width="1.2" stroke-linecap="round" />
<path d="M110.5,352 q-3,1 -1.5,4.5" stroke-width="1.3" fill="none" stroke-linecap="round" stroke-linejoin="round"/>
<line x1="99.0" y1="357.0" x2="106.0" y2="361.0" stroke-width="1.4" stroke-linecap="round" />
<line x1="103.5" y1="355.5" x2="101.5" y2="363.0" stroke-width="1.4" stroke-linecap="round" />
<polyline points="96.0,362.5 93.5,366.0 96.0,369.5 92.5,373.0 93.0,378.0 90.5,383.0" stroke-width="1.4" fill="none" stroke-linejoin="round" stroke-linecap="round"/>
<circle cx="90.2" cy="386.0" r="2.0" fill="#000" stroke="none"/>
<path d="M99.5,388 q-3,1.5 -0.5,4" stroke-width="1.4" fill="none" stroke-linecap="round" stroke-linejoin="round"/>
<line x1="76.3" y1="376.3" x2="77.9" y2="377.5" stroke-width="1.4" stroke-linecap="round" />
<line x1="78.0" y1="381.0" x2="79.6" y2="382.2" stroke-width="1.4" stroke-linecap="round" />
<line x1="67.3" y1="381.2" x2="68.9" y2="382.4" stroke-width="1.4" stroke-linecap="round" />
<line x1="72.0" y1="384.5" x2="73.6" y2="385.7" stroke-width="1.4" stroke-linecap="round" />
<line x1="69.5" y1="378.0" x2="71.1" y2="379.2" stroke-width="1.4" stroke-linecap="round" />
<line x1="61.3" y1="398.2" x2="78.7" y2="393.8" stroke-width="2.4" stroke-linecap="round" />
<circle cx="62.0" cy="398.0" r="2.0" fill="#000" stroke="none"/>
<line x1="70.0" y1="396.0" x2="72.0" y2="402.0" stroke-width="1.2" stroke-linecap="butt" />
<circle cx="90.3" cy="386.5" r="1.9" fill="#000" stroke="none"/>
<line x1="90.3" y1="386.5" x2="83.0" y2="383.5" stroke-width="1.3" stroke-linecap="butt" />
<path d="M95,388.5 q3,1 1.5,4" stroke-width="1.3" fill="none" stroke-linecap="round" stroke-linejoin="round"/>
<path d="M66,411 q2.5,-2.5 4.5,1 q-1,3.5 -4,2.5 z" stroke-width="1.5" fill="#000" stroke-linecap="round" stroke-linejoin="round"/>
<line x1="69.0" y1="410.0" x2="76.5" y2="415.5" stroke-width="2.2" stroke-linecap="round" />
<line x1="67.8" y1="419.2" x2="80.0" y2="425.0" stroke-width="1.3" stroke-linecap="round" />
<line x1="80.0" y1="425.0" x2="88.0" y2="428.7" stroke-width="0.9" stroke-linecap="butt" stroke-dasharray="1.5 1.5"/>
<circle cx="67.5" cy="419.0" r="1.4" fill="#000" stroke="none"/>
<circle cx="87.5" cy="428.5" r="1.1" fill="#000" stroke="none"/>
<line x1="52.5" y1="407.5" x2="54.3" y2="408.5" stroke-width="1.6" stroke-linecap="round" />
<line x1="55.0" y1="411.0" x2="56.8" y2="412.0" stroke-width="1.6" stroke-linecap="round" />
<line x1="56.5" y1="415.0" x2="58.3" y2="416.0" stroke-width="1.6" stroke-linecap="round" />
<line x1="53.0" y1="414.0" x2="54.8" y2="415.0" stroke-width="1.6" stroke-linecap="round" />
<path d="M48,429.5 q-3,1 -1.5,4 q2,1.5 3.5,0" stroke-width="1.6" fill="none" stroke-linecap="round" stroke-linejoin="round"/>
<polyline points="58.5,423.5 60.0,428.0 57.5,432.0 59.5,437.0 57.0,441.0 58.0,447.0" stroke-width="2.0" fill="none" stroke-linejoin="round" stroke-linecap="round"/>
<line x1="57.6" y1="431.0" x2="67.8" y2="430.0" stroke-width="1.8" stroke-linecap="round" />
<circle cx="68.0" cy="430.0" r="1.5" fill="#000" stroke="none"/>
<circle cx="55.0" cy="440.0" r="1.5" fill="#000" stroke="none"/>
<line x1="65.6" y1="435.0" x2="62.0" y2="443.5" stroke-width="1.6" stroke-linecap="round" />
<line x1="70.5" y1="435.0" x2="68.5" y2="442.0" stroke-width="1.4" stroke-linecap="round" />
<line x1="68.5" y1="442.0" x2="71.0" y2="440.0" stroke-width="1.2" stroke-linecap="butt" />
<circle cx="46.0" cy="443.0" r="0.9" fill="#000" stroke="none"/>
<circle cx="82.0" cy="437.0" r="0.8" fill="#000" stroke="none"/>
<circle cx="84.0" cy="432.0" r="0.8" fill="#000" stroke="none"/>
<circle cx="129.0" cy="409.0" r="1.6" fill="#000" stroke="none"/>
<circle cx="152.0" cy="410.0" r="1.3" fill="#000" stroke="none"/>
<circle cx="157.0" cy="413.0" r="1.3" fill="#000" stroke="none"/>
<line x1="160.0" y1="404.0" x2="162.0" y2="409.0" stroke-width="1.8" stroke-linecap="round" />
<line x1="165.0" y1="405.0" x2="167.0" y2="410.0" stroke-width="1.8" stroke-linecap="round" />
<polygon points="142.5,396.0 147.0,395.0 148.0,399.5 143.5,400.5" stroke-width="1.2" fill="none" stroke-linejoin="miter" stroke-linecap="butt"/>
<text x="170.5" y="25.6" font-size="21.5" text-anchor="middle" stroke="#000" stroke-width="0.55" >3</text>
<text x="146.8" y="119.0" font-size="21.5" text-anchor="middle" stroke="#000" stroke-width="0.55" >4</text>
<text x="365.4" y="66.8" font-size="21.5" text-anchor="middle" stroke="#000" stroke-width="0.55" >5</text>
<text x="18.5" y="212.2" font-size="21.5" text-anchor="middle" stroke="#000" stroke-width="0.55" >2</text>
<text x="596.8" y="23.0" font-size="21.5" text-anchor="middle" stroke="#000" stroke-width="0.55" >2</text>
<text x="616.9" y="336.5" font-size="23.5" text-anchor="middle" stroke="#000" stroke-width="0.1" >6</text>
<clipPath id="c1"><rect x="388" y="184" width="16" height="20.3"/></clipPath>
<text x="398.8" y="206.0" font-size="22.5" text-anchor="middle" stroke="#000" stroke-width="0.55" clip-path="url(#c1)">1</text>
</g>
</svg>
</body></html>
